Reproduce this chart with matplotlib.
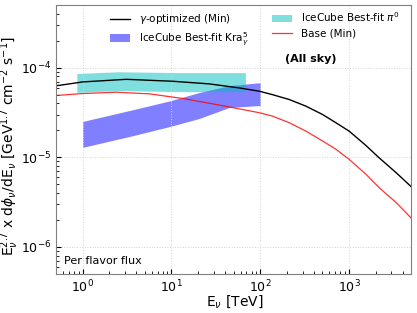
import numpy as np
import matplotlib
matplotlib.use("Agg")
import matplotlib.pyplot as plt

# gamma-optimized (Min)
e_opt = [0.5, 0.55, 1.0, 3.1, 10.3, 26.7, 58, 97.5, 137, 212, 326, 503, 710,
         1000, 1540, 2170, 3370, 5000]
f_opt = [6.3e-5, 6.35e-5, 6.93e-5, 7.41e-5, 7.05e-5, 6.59e-5, 5.94e-5, 5.46e-5,
         5.0e-5, 4.41e-5, 3.72e-5, 3.0e-5, 2.43e-5, 1.96e-5, 1.36e-5, 9.9e-6,
         6.76e-6, 4.7e-6]

# Base (Min)
e_base = [0.5, 0.55, 1.0, 2.4, 5.66, 13.4, 31.9, 58, 97.5, 137, 212, 326, 503,
          710, 1000, 1540, 2170, 3370, 5000]
f_base = [4.9e-5, 4.92e-5, 5.14e-5, 5.32e-5, 5.1e-5, 4.53e-5, 3.88e-5, 3.47e-5,
          3.14e-5, 2.88e-5, 2.43e-5, 1.96e-5, 1.52e-5, 1.23e-5, 9.5e-6, 6.5e-6,
          4.6e-6, 3.14e-6, 2.1e-6]

# IceCube best-fit pi0 band
e_pi0 = [0.86, 2.5, 12.0, 68]
pi0_lo = [5.3e-5, 5.55e-5, 5.4e-5, 5.4e-5]
pi0_hi = [8.6e-5, 9.0e-5, 8.8e-5, 8.8e-5]

# IceCube best-fit Kra_gamma^5 band
e_kra = [1.0, 3.4, 9.5, 20.6, 44.8, 100]
kra_lo = [1.29e-5, 1.71e-5, 2.2e-5, 2.71e-5, 3.6e-5, 3.78e-5]
kra_hi = [2.51e-5, 3.33e-5, 4.25e-5, 5.28e-5, 6.3e-5, 6.8e-5]

fig = plt.figure(figsize=(4.17, 3.13), dpi=100)
ax = fig.add_axes([0.134, 0.125, 0.852, 0.859])

ax.plot(e_opt, f_opt, color='black', lw=1.0, label=r'$\gamma$-optimized (Min)')
ax.fill_between(e_kra, kra_lo, kra_hi, color='blue', alpha=0.5, lw=0,
                label=r'IceCube Best-fit Kra$_\gamma^5$')
ax.fill_between(e_pi0, pi0_lo, pi0_hi, color='c', alpha=0.5, lw=0,
                label=r'IceCube Best-fit $\pi^0$')
ax.plot(e_base, f_base, color='red', lw=0.9, alpha=0.8, label='Base (Min)')

ax.set_xscale('log')
ax.set_yscale('log')
ax.set_xlim(0.5, 5000)
ax.set_ylim(5e-7, 5e-4)
ax.grid(True, which='major', ls=':', color='lightgray', lw=0.7)

ax.tick_params(which='both', direction='in', labelsize=9)
for s in ax.spines.values():
    s.set_color('gray')

ax.set_xlabel(r'E$_\nu$ [TeV]', fontsize=10)
ax.xaxis.set_label_coords(0.503, -0.072)
ax.set_ylabel(r'E$_\nu^{2.7}$ x d$\phi_\nu$/dE$_\nu$ [GeV$^{1.7}$ cm$^{-2}$ s$^{-1}$]',
              fontsize=10)
ax.yaxis.set_label_coords(-0.098, 0.476)

ax.legend(loc='upper center', ncol=2, frameon=False, fontsize=7.5,
          bbox_to_anchor=(0.559, 1.015), columnspacing=2.2, handlelength=2,
          labelspacing=0.4)
ax.text(0.716, 0.80, '(All sky)', transform=ax.transAxes, fontsize=8,
        fontweight='bold', ha='center', va='center')
ax.text(0.023, 0.048, 'Per flavor flux', transform=ax.transAxes, fontsize=8,
        ha='left', va='center')

fig.savefig('out.png', dpi=100)
